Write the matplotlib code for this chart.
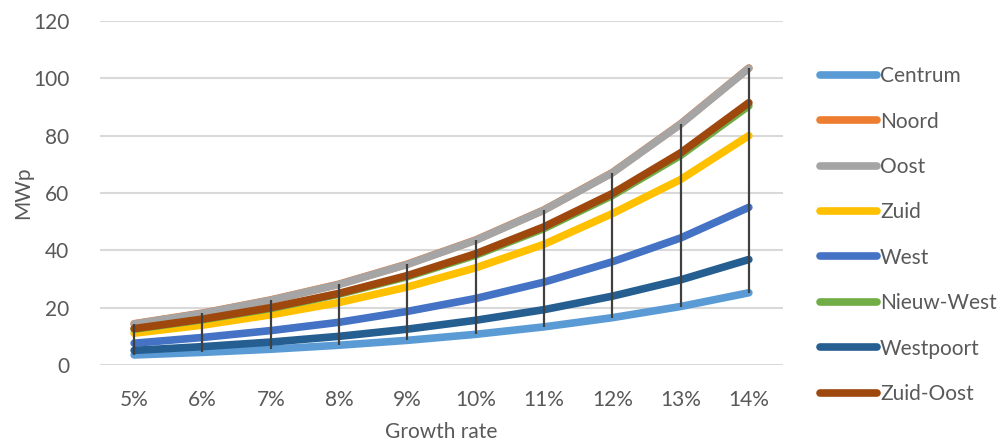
import numpy as np
import matplotlib.pyplot as plt
import matplotlib.patheffects as pe

plt.rcParams['font.family'] = ['Lato', 'DejaVu Sans']

rates = ["5%", "6%", "7%", "8%", "9%", "10%", "11%", "12%", "13%", "14%"]

centrum = [3.5, 4.4, 5.5, 6.9, 8.6, 10.7, 13.3, 16.5, 20.4, 25.2]
noord = [14.4, 18.1, 22.7, 28.2, 35.2, 43.6, 54.1, 67.1, 84.1, 103.6]
oost = [14.3, 18.0, 22.6, 28.1, 35.1, 43.5, 54.0, 67.0, 84.0, 103.5]
zuid = [11.1, 13.9, 17.5, 21.8, 27.2, 33.9, 42.1, 52.8, 64.7, 80.0]
west = [7.6, 9.6, 12.0, 14.9, 18.7, 23.2, 28.9, 36.0, 44.3, 55.0]
nieuw_west = [12.5, 15.8, 19.7, 24.7, 30.8, 38.3, 47.6, 59.1, 73.1, 90.4]
westpoort = [5.1, 6.4, 8.0, 10.0, 12.5, 15.6, 19.3, 24.0, 29.7, 36.8]
zuid_oost = [12.7, 16.0, 20.0, 25.0, 31.2, 38.8, 48.2, 59.8, 74.0, 91.5]

series = [
    ("Centrum", centrum, "#5B9BD5"),
    ("Noord", noord, "#ED7D31"),
    ("Oost", oost, "#A5A5A5"),
    ("Zuid", zuid, "#FFC000"),
    ("West", west, "#4472C4"),
    ("Nieuw-West", nieuw_west, "#70AD47"),
    ("Westpoort", westpoort, "#255E91"),
    ("Zuid-Oost", zuid_oost, "#9E480E"),
]

text_color = "#595959"

fig = plt.figure(figsize=(10.07, 4.46), dpi=100)
ax = fig.add_axes([100 / 1007, 81 / 446, 683 / 1007, 344 / 446])

x = np.arange(len(rates))
shadow = [pe.SimpleLineShadow(offset=(2, -3), shadow_color="#555555", alpha=0.3),
          pe.Normal()]
for name, vals, col in series:
    ax.plot(x, vals, color=col, lw=5.5, label=name, solid_capstyle="round",
            solid_joinstyle="round", path_effects=shadow, zorder=3)

# high-low lines across all districts
allv = np.array([s[1] for s in series])
ax.vlines(x, allv.min(axis=0), allv.max(axis=0), color="#404040", lw=1.6, zorder=4)

ax.set_xlim(-0.5, len(rates) - 0.5)
ax.set_ylim(0, 120)
ax.set_yticks(range(0, 121, 20))
ax.set_xticks(x)
ax.set_xticklabels(rates)
ax.tick_params(length=0, labelsize=15, colors=text_color)
ax.tick_params(axis="x", pad=18)
ax.tick_params(axis="y", pad=22)
ax.grid(axis="y", color="#D9D9D9", lw=1.5)
ax.set_axisbelow(True)
for sp in ax.spines.values():
    sp.set_visible(False)

ax.set_xlabel("Growth rate", fontsize=15, color=text_color, labelpad=9)
ax.set_ylabel("MWp", fontsize=15, color=text_color, labelpad=0)

handles, labels = ax.get_legend_handles_labels()
for h in handles:
    h.set_path_effects([])
leg = fig.legend(handles, labels, loc="center left", bbox_to_anchor=(0.814, 0.473),
                 frameon=False, fontsize=15, handlelength=2.75, handletextpad=0.15,
                 labelspacing=1.22, borderpad=0, borderaxespad=0)
for t in leg.get_texts():
    t.set_color(text_color)

fig.savefig("out.png", dpi=100)
